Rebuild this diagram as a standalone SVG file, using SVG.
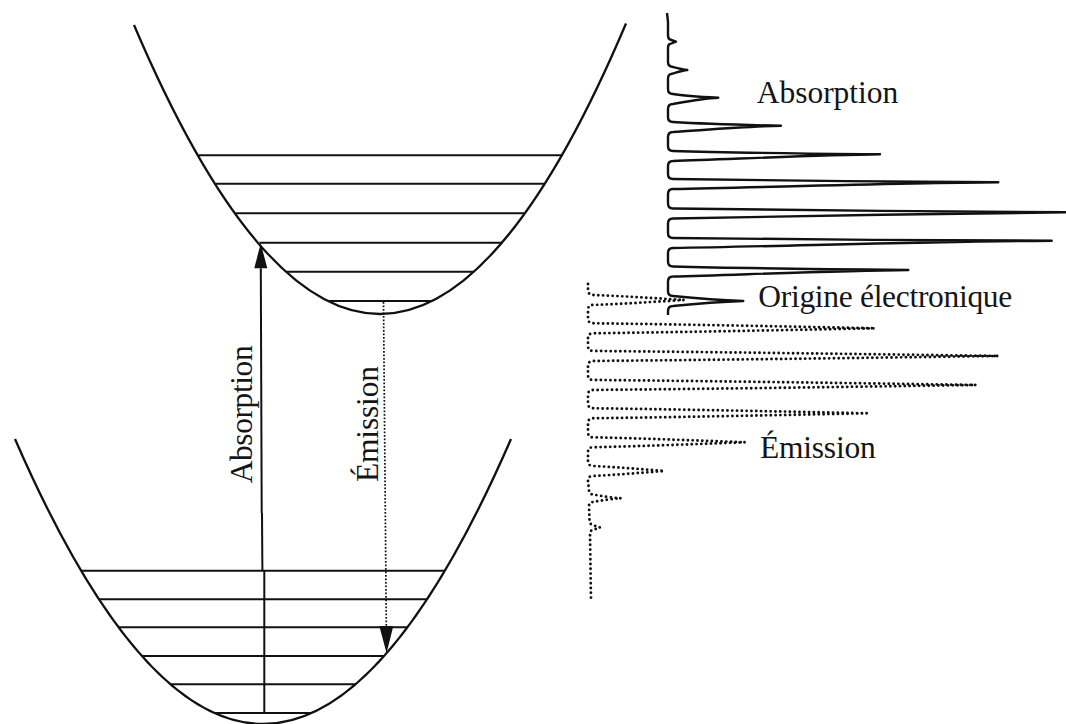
<svg xmlns="http://www.w3.org/2000/svg" width="1066" height="724" viewBox="0 0 1066 724">
  <style>
    .curve { fill: none; stroke: #111; stroke-width: 2.3; }
    .level { stroke: #111; stroke-width: 2; }
    .shaft { fill: none; stroke: #111; stroke-width: 2; }
    .dotted-shaft { fill: none; stroke: #111; stroke-width: 1.7; stroke-dasharray: 1.7 1.8; }
    .abs-spec { fill: none; stroke: #111; stroke-width: 2.4; stroke-linejoin: round; }
    .em-spec { fill: none; stroke: #111; stroke-width: 2.9; stroke-linecap: round; stroke-dasharray: 0 4.8; }
    .label { font-family: "Liberation Serif", "DejaVu Serif", serif; font-size: 31.5px; fill: #151515; }
  </style>
  <defs>
    <marker id="head-abs" markerUnits="userSpaceOnUse" markerWidth="30" markerHeight="16" refX="0" refY="0" viewBox="0 -8 30 16" orient="auto" overflow="visible">
      <path d="M0,-6.5 L25,0 L0,6.5 Z" fill="#111"/>
    </marker>
    <marker id="head-em" markerUnits="userSpaceOnUse" markerWidth="30" markerHeight="16" refX="0" refY="0" viewBox="0 -8 30 16" orient="auto" overflow="visible">
      <path d="M0,-7 L27,0 L0,7 Z" fill="#111"/>
    </marker>
  </defs>

  <rect width="1066" height="724" fill="#fff"/>

  <!-- excited electronic state -->
  <g id="upper-state">
    <path class="curve" d="M134,25 Q380.5,603.75 626,23.5"/>
    <line class="level" x1="198.8" y1="155.3" x2="562.2" y2="155.3"/>
    <line class="level" x1="215.9" y1="183.7" x2="545.1" y2="183.7"/>
    <line class="level" x1="235.8" y1="213.3" x2="525.2" y2="213.3"/>
    <line class="level" x1="259.5" y1="242.7" x2="502.3" y2="242.7"/>
    <line class="level" x1="286.7" y1="271.7" x2="474.3" y2="271.7"/>
    <line class="level" x1="328.5" y1="301" x2="432.5" y2="301"/>
  </g>

  <!-- ground electronic state -->
  <g id="lower-state">
    <path class="curve" d="M15,439 Q263,1009 511,439"/>
    <line class="level" x1="81.1" y1="570.7" x2="444.9" y2="570.7"/>
    <line class="level" x1="99" y1="599.3" x2="427" y2="599.3"/>
    <line class="level" x1="118.5" y1="627.3" x2="407.5" y2="627.3"/>
    <line class="level" x1="141.9" y1="656" x2="384.1" y2="656"/>
    <line class="level" x1="170.4" y1="684.3" x2="355.6" y2="684.3"/>
    <line class="level" x1="214.3" y1="713" x2="311.7" y2="713"/>
  </g>

  <!-- vertical transitions -->
  <g id="transitions">
    <path class="shaft" d="M264.3,713 L264.3,570.7"/>
    <path class="shaft" d="M262.4,570.7 L262,513" stroke-width="1"/>
    <path class="shaft" d="M261.7,513 L260.8,268.3" marker-end="url(#head-abs)"/>
    <path class="dotted-shaft" d="M383.5,302 L386.3,626" marker-end="url(#head-em)"/>
  </g>

  <g id="transition-labels">
    <text class="label" transform="translate(251.7,483.3) rotate(-90)" textLength="138">Absorption</text>
    <text class="label" transform="translate(377.5,482) rotate(-90)" textLength="116">Émission</text>
  </g>

  <!-- absorption spectrum (solid) -->
  <g id="absorption-spectrum">
    <path class="abs-spec" d="M667,13 L668,22 L668,35 Q668,39 670,39.5 L676,41.7 L670,44 Q668,44.5 668,48
      L668,62 Q668,66 671,66.5 C675,67.5 681,69.3 687.3,70 C681,70.7 675,73 671,74 Q668,74.5 668,79
      L668,89 Q668,94 673,94 C683.1,95.8 703.2,97 718.3,97.7 C703.2,98.4 683.1,102.2 673,104 Q668,104 668,109
      L668,117 Q668,122 673,122 C701.9,123.8 747.1,125 781,125.7 C747.1,126.4 701.9,130.2 673,132 Q668,132 668,137
      L668,146 Q668,151 673,151 C731.6,152.8 816.4,153.6 880,154.3 C816.4,155 731.6,159.2 673,161 Q668,161 668,166
      L668,174 Q668,179 673,179 C767.1,180.8 899.2,181.6 998.3,182.3 C899.2,183 767.1,187.2 673,189 Q668,189 668,194
      L668,203.5 Q668,208.5 673,208.5 C788.6,210.3 949.4,211.6 1070,212.3 C949.4,213 788.6,216.7 673,218.5 Q668,218.5 668,223.5
      L668,233 Q668,238 673,238 C783.1,239.8 936.6,240 1051.7,240.7 C936.6,241.4 783.1,246.2 673,248 Q668,248 668,253
      L668,261.5 Q668,266.5 673,266.5 C740.1,268.3 836.2,269.3 908.3,270 C836.2,270.7 740.1,274.7 673,276.5 Q668,276.5 668,281.5
      L668,291 Q668,296 673,296 C690.6,297.8 720.7,300.3 743.3,301 C720.7,301.7 690.6,304.2 673,306 Q668,306 668,311 L668,315"/>
  </g>

  <!-- emission spectrum (dotted) -->
  <g id="emission-spectrum">
    <path class="em-spec" d="M588,284 L588,290 Q588,295 593,295 C623.3,296.2 653.7,298.1 684,300 C653.7,301.9 623.3,303.8 593,305 Q588,305 588,310
      L588,318.3 Q588,323.3 593,323.3 C687,324.5 781,326.4 875,328.3 C781,330.2 687,332.1 593,333.3 Q588,333.3 588,338.3
      L588,346 Q588,351 593,351 C728.1,352.2 863.2,354.1 998.3,356 C863.2,357.9 728.1,359.8 593,361 Q588,361 588,366
      L588,375 Q588,380 593,380 C720.7,381.2 848.3,383.1 976,385 C848.3,386.9 720.7,388.8 593,390 Q588,390 588,395
      L588,403.3 Q588,408.3 593,408.3 C684.2,409.5 775.5,411.4 866.7,413.3 C775.5,415.2 684.2,417.1 593,418.3 Q588,418.3 588,423.3
      L588,432.3 Q588,437.3 593,437.3 C643.7,438.5 694.3,440.4 745,442.3 C694.3,444.2 643.7,446.1 593,447.3 Q588,447.3 588,452.3
      L588,461 Q588,466 593,466 C616.7,467.2 640.3,469.1 664,471 C640.3,472.9 616.7,474.8 593,476 Q588,476 588,481
      L589,490 Q589,494 593,494.5 C600,495.8 612,497.8 620.7,498.3 C612,498.8 600,500.8 593,502 Q589,502.5 589,506
      L589.5,521 Q590,525 594,525.5 L600,527.5 L594,529.5 Q590,530 590,534 L591,600"/>
  </g>

  <g id="spectrum-labels">
    <text class="label" x="756.7" y="103.3" textLength="141.6">Absorption</text>
    <text class="label" x="758.3" y="307.3" textLength="254">Origine électronique</text>
    <text class="label" x="760" y="458.3" textLength="115.7">Émission</text>
  </g>
</svg>
